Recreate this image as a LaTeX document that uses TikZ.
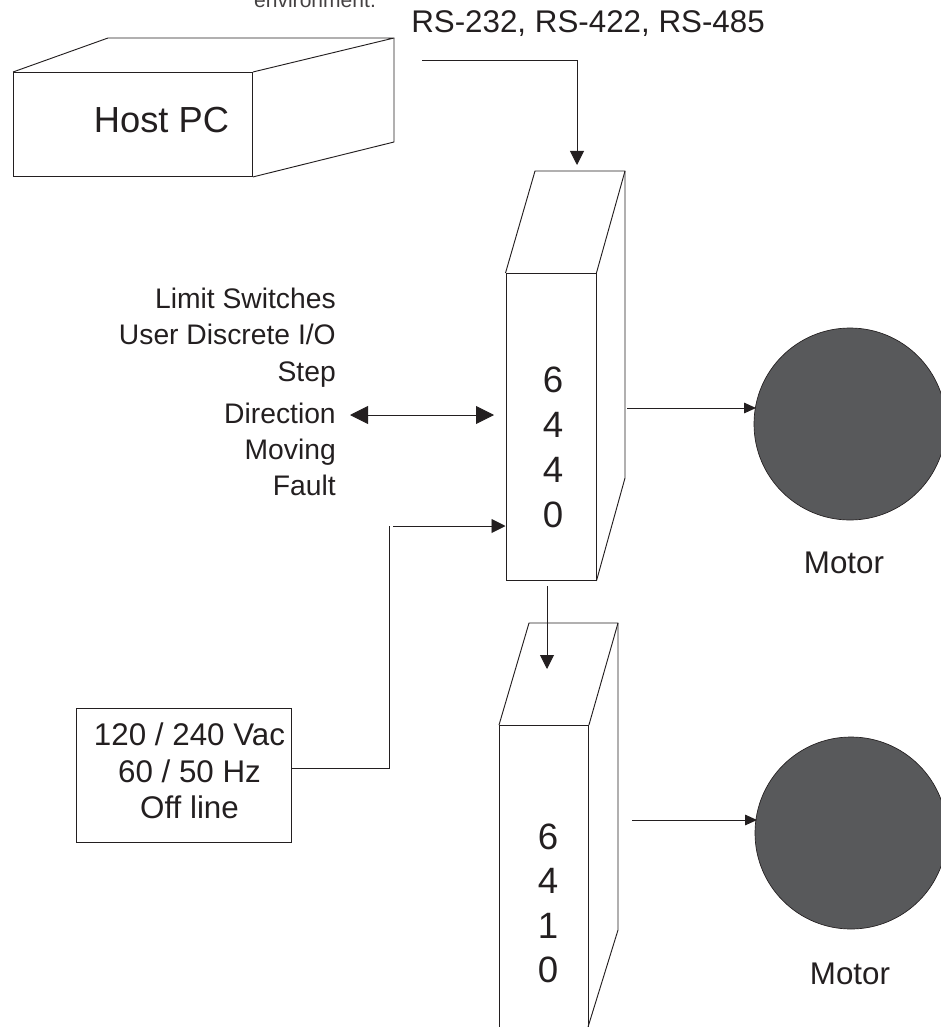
\documentclass[tikz,border=0pt]{standalone}
\usepackage{fontspec}
\setmainfont{Liberation Sans}
\usetikzlibrary{arrows.meta}
\definecolor{ink}{HTML}{231F20}
\definecolor{motorfill}{HTML}{58595B}
\newcommand{\fsz}[1]{\fontsize{#1}{#1}\selectfont}
\tikzset{
  line/.style={draw=ink,line width=0.7pt},
  face/.style={line,rectangle,inner sep=0pt,minimum width=#1},
  lbl/.style={inner sep=0pt,text=ink,anchor=base,font=\fsz{23.5}},
  listlbl/.style={inner sep=0pt,text=ink,anchor=base east,font=\fsz{21.2}},
  digit/.style={inner sep=0pt,text=ink,anchor=base,font=\fsz{27.5}},
  motor/.style={circle,draw=ink,line width=0.5pt,fill=motorfill,inner sep=0pt,minimum size=144pt},
  bighead/.style={-{Triangle[length=10.5pt,width=10.5pt]}},
  arrowline/.style={line,bighead},
  smallhead/.style={line,-{Triangle[length=8pt,width=6.5pt]}},
  bothhead/.style={line,{Triangle[length=13.5pt,width=13.5pt]}-{Triangle[length=13.5pt,width=13.5pt]}}
}
\begin{document}
\begin{tikzpicture}[x=0.75pt,y=-0.75pt]
\useasboundingbox (0,0) rectangle (941,1027);
\clip (0,0) rectangle (941,1027);
% caption fragment
\node[inner sep=0pt,anchor=base,text=ink!85,font=\fsz{15.8}] (env) at (315,8) {environment.};
\node[lbl,anchor=base west] (rs) at (411,33) {RS-232, RS-422, RS-485};
% Host PC
\node[line,rectangle,inner sep=0pt,minimum width=179.25pt,minimum height=78pt,anchor=north west] (host) at (13,72) {};
\node[inner sep=0pt,text=ink,anchor=base,font=\fsz{27.2}] (hostlbl) at (161.5,133) {Host PC};
\draw[line,line join=round] (host.north west) -- (108,38) coordinate (hb) -- (394,38) coordinate (hc) -- (host.north east);
\draw[line,line join=round] (hc) -- (394,142) coordinate (hd) -- (host.south east);
% 6440
\node[line,rectangle,inner sep=0pt,minimum width=67.5pt,minimum height=230.25pt,anchor=north west] (a) at (505.5,273) {};
\draw[line,line join=round] (a.north west) -- (535,171) coordinate (ab) -- (625,171) coordinate (ac) -- (a.north east);
\draw[line,line join=round] (ac) -- (625,478) coordinate (ad) -- (a.south east);
\node[digit] (a1) at (553,392) {6};
\node[digit] (a2) at (553,437) {4};
\node[digit] (a3) at (553,482) {4};
\node[digit] (a4) at (553,527) {0};
% 6410
\node[line,rectangle,inner sep=0pt,minimum width=66.75pt,minimum height=232.5pt,anchor=north west] (b) at (499,725) {};
\draw[line,line join=round] (b.north west) -- (529,623) coordinate (bb) -- (618,623) coordinate (bc) -- (b.north east);
\draw[line,line join=round] (bc) -- (618,930) coordinate (bd) -- (588,1027) coordinate (be);
\node[digit] (b1) at (548,849) {6};
\node[digit] (b2) at (548,893) {4};
\node[digit] (b3) at (548,938) {1};
\node[digit] (b4) at (548,982) {0};
% motors
\node[motor] (m1) at (850,424) {};
\node[motor] (m2) at (851,833) {};
\node[lbl] (m1l) at (844,573) {Motor};
\node[lbl] (m2l) at (850,984) {Motor};
% I/O labels
\node[listlbl] (l1) at (336,308) {Limit Switches};
\node[listlbl] (l2) at (336,344) {User Discrete I/O};
\node[listlbl] (l3) at (336,381) {Step};
\node[listlbl] (l4) at (336,423) {Direction};
\node[listlbl] (l5) at (336,459) {Moving};
\node[listlbl] (l6) at (336,495) {Fault};
% power
\node[line,rectangle,inner sep=0pt,minimum width=161.25pt,minimum height=100.5pt,anchor=north west] (p) at (76,708) {};
\node[lbl] (p1) at (189.5,745) {120 / 240 Vac};
\node[lbl] (p2) at (189.5,782) {60 / 50 Hz};
\node[lbl] (p3) at (189.5,818) {Off line};
% connectors
\coordinate (c1s) at (422,60);
\coordinate (c1t) at (577,165);
\draw[arrowline] (c1s) -| (c1t);
\coordinate (d1) at (350,415);
\coordinate (d2) at (494,415);
\draw[bothhead] (d1) -- (d2);
\coordinate (pc) at (389,768.5);
\coordinate (pt) at (389,526);
\coordinate (pa) at (393,526);
\coordinate (pb) at (505.5,526);
\draw[line,line width=1pt] (p.east |- pc) -- (pc);
\draw[line] (pc) -- (pt);
\draw[smallhead,-{Triangle[length=10.5pt,width=10.5pt]}] (pa) -- (pb);
\coordinate (ds) at (547,586);
\coordinate (dt) at (547,669);
\draw[arrowline] (ds) -- (dt);
\coordinate (e1) at (627,408);
\coordinate (e2) at (756,408);
\draw[smallhead,-{Triangle[length=9pt,width=8pt]}] (e1) -- (e2);
\coordinate (f1) at (632,820);
\coordinate (f2) at (757,820);
\draw[smallhead,-{Triangle[length=9pt,width=8pt]}] (f1) -- (f2);
\end{tikzpicture}
\end{document}
